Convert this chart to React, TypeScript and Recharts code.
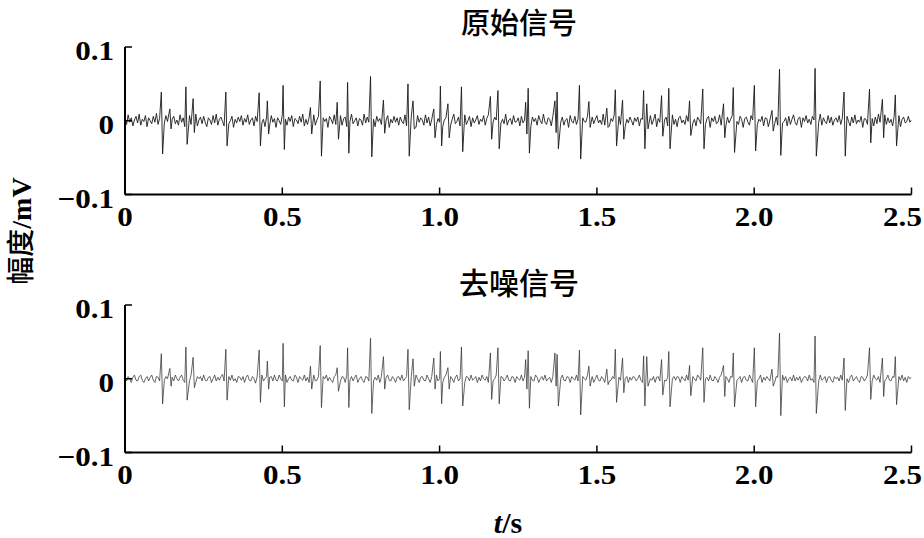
import React from 'react';
import { LineChart, Line, XAxis, YAxis } from 'recharts';

// x axis ticks (s) and labels
const xTicks = [0, 0.5, 1.0, 1.5, 2.0, 2.5];
const xTickLabels = ['0', '0.5', '1.0', '1.5', '2.0', '2.5'];
const yTicks = [-0.1, 0, 0.1];
const yTickLabels = ['\u22120.1', '0', '0.1'];

// baseline sampled every 5 ms, values in uV
const sampleStep = 0.005;

const rawNoise = [
  3, -5, 8, -2, 4, -7, 1, 6, -3, 9, -6, 2, -1, 7, -8, 4, 0, -4, 6, -2, 10, -5, 3, -7, 2,
  -3, 7, -1, 5, -9, 2, 6, -4, 1, -6, 8, -2, 4, -8, 3, 0, 7, -5, 2, -3, 9, -7, 1, 5, -4,
  6, -2, -8, 4, 1, -5, 7, -3, 9, -6, 2, 5, -1, -7, 3, 8, -4, 0, 6, -9, 2, -3, 5, -1, 7,
  -6, 3, -2, 8, -5, 1, 4, -7, 6, -1, -4, 9, -3, 2, -8, 5, 1, -6, 7, -2, 3, -9, 4, 0, -5,
  8, -3, 2, -6, 5, -1, 7, -8, 3, 1, -4, 6, -2, 9, -7, 2, -5, 4, 0, -3, 8, -6, 1, 6, -2,
  -7, 4, -1, 3, -9, 6, 2, -4, 8, -5, 1, -2, 7, -6, 3, 5, -8, 2, -1, 9, -4, 0, 4, -7, 3,
  1, -6, 9, -3, 5, -2, -7, 4, 2, -8, 6, -1, 3, -5, 8, -4, 1, 7, -9, 2, -3, 6, -2, 4, -6,
  5, -1, -4, 8, -7, 3, 0, 6, -5, 2, -9, 7, -2, 4, 1, -6, 8, -3, 5, -7, 2, -1, 9, -5, 3,
  -2, 6, -8, 1, 4, -3, 7, -6, 2, 9, -4, -1, 5, -7, 3, -2, 8, -5, 0, 6, -8, 4, -3, 1, 7,
  -5, 2, -1, 7, -6, 3, 8, -9, 4, -2, 5, 1, -7, 6, -3, 2, -4, 9, -6, 1, 3, -5, 7, -2, -1,
  4, -7, 6, -3, 1, 8, -5, 2, -8, 5, -1, 3, -6, 7, 0, -4, 9, -2, -5, 4, 2, -7, 6, -3, 1,
  -4, 8, -2, 5, -6, 1, 3, -9, 7, -1, -3, 6, -5, 2, 8, -7, 4, -1, -2, 6, -8, 3, 5, -4, 2,
  7, -3, 1, -5, 9, -6, 2, 4, -7, 3, -1, 8, -4, -2, 6, -5, 1, 7, -8, 2, -3, 5, 0, -6, 4,
  -1, 5, -7, 3, 2, -6, 8, -2, -4, 7, -5, 1, 9, -8, 3, -2, 6, -4, 1, 5, -7, 2, -3, 8, -5,
  2, -8, 4, 6, -3, 1, -5, 7, -1, -6, 9, -3, 2, -7, 5, 1, -4, 8, -2, -5, 3, 6, -9, 4, -1,
  6, -4, -2, 8, -6, 3, 1, -7, 5, -3, 2, 7, -8, 4, -1, -5, 6, 2, -9, 3, 5, -2, -6, 7, 1,
  -3, 9, -5, 2, -1, 6, -7, 4, 3, -8, 1, -2, 7, -4, 5, -6, 2, 8, -3, -1, 4, -7, 6, -5, 2,
  8, -2, -6, 3, 5, -9, 4, -1, 7, -3, 2, -5, 6, 1, -8, 3, -2, 9, -6, 4, -1, -4, 7, -3, 5,
  -6, 1, 4, -2, 7, -5, 3, -8, 2, 6, -1, -7, 5, -3, 8, -4, 1, -2, 6, -9, 3, 2, -5, 7, -1,
  3, -7, 5, -4, 9, -2, -6, 1, 8, -5, 4, -3, 2, -7, 6, 1, -4, 7, -8, 2, 5, -3, -1, 6, -2,
  1,
];

const denoisedNoise = [
  2, -3, 3, 0, -5, 2, 5, -2, -3, 3, 5, -2, -5, 0, 3, -3, 2, 5, -2, -5, 3, 2, -3, 0, 5,
  -2, 3, 0, -5, 3, 2, -3, 5, 0, -3, 2, 5, -2, -5, 3, 0, -3, 5, 2, -2, -5, 3, 0, 3, -3,
  5, -2, -3, 2, 3, -5, 0, 5, -3, 2, -2, 3, 6, -3, -5, 2, 3, -2, 5, -3, 0, -5, 3, 2, -2,
  3, -5, 2, 5, -2, -3, 3, 0, -6, 3, 2, -2, 5, -3, 0, 3, -5, 2, 3, -3, 5, -2, -3, 5, 0,
  -3, 2, 5, -5, 0, 3, -2, -3, 5, 2, -5, 3, 0, -2, 5, -3, 2, -5, 3, 0, 5, -3, -2, 3, 2,
  -5, 3, 0, 5, -3, 2, -2, -5, 3, 5, -2, 0, -3, 3, 2, -5, 5, 0, -2, 3, -3, 2, 5, -5, 0,
  3, -2, -5, 3, 2, -3, 5, 0, -3, 2, -2, 5, -5, 3, 0, -3, 2, 5, -2, -3, 3, 0, -5, 2, 3,
  -2, 5, -3, 0, 3, -5, 2, 3, -2, -3, 5, 0, -5, 2, 3, -2, -3, 5, 0, -5, 3, 2, -2, 5, -3,
  0, 3, -5, 2, 5, -2, -3, 3, 0, -5, 2, 5, -3, 0, 3, -2, -5, 3, 2, -3, 5, -2, 0, 3, -5,
  2, -3, 5, 0, -2, 3, -5, 2, 3, -3, 0, 5, -2, -5, 3, 2, -3, 0, 5, -2, -3, 3, 2, -5, 3,
  0, -2, 5, -3, 2, 3, -5, 0, 3, -2, -3, 5, 2, -5, 0, 3, -2, 5, -3, 0, 2, -5, 3, 2, -2,
  3, -5, 0, 5, -2, -3, 3, 2, -5, 3, 0, -2, 5, -3, 2, -5, 3, 0, -2, 5, -3, 2, 3, -5, 0,
  5, -2, -3, 3, 0, -5, 2, 5, -3, -2, 3, 0, -5, 3, 2, -2, 5, -3, 0, 3, -5, 2, -2, 3, 2,
  -3, 0, 5, -2, -5, 3, 2, -3, 5, 0, -2, 3, -5, 2, 3, -3, 0, 5, -2, -3, 2, 5, -5, 0, 3,
  -2, 3, 2, -5, 3, 0, -3, 5, -2, 2, -5, 3, 0, -3, 5, 2, -2, -5, 3, 0, 2, -3, 5, -2, -3,
  3, 0, -5, 2, 5, -3, -2, 3, 0, -5, 3, 2, -3, 5, -2, 0, 3, -5, 2, 3, -2, -3, 5, 0, -5,
  2, 3, -3, 0, 5, -5, 2, -2, 3, 0, -3, 5, -2, -5, 3, 2, 0, -3, 5, -2, 3, -5, 0, 2, -3,
  5, -3, 2, -2, 3, -5, 0, 3, 2, -3, 5, -2, 0, -5, 3, 2, -3, 5, -2, 0, 3, -5, 2, 3, -2,
  -5, 3, 0, 2, -3, 5, -2, -3, 3, 0, -5, 2, 5, -3, 0, 3, -2, -5, 3, 2, -3, 0, 5, -2, 2,
  -3, 5, 0, -2, 3, -5, 2, 3, -3, 0, 5, -2, -3, 3, 2, -5, 0, 3, -2, 5, -3, 2, -5, 3, 0,
  2,
];

// spike (QRS-like) times in s
const spikeTimes = [
  0.117, 0.144, 0.195, 0.218, 0.322, 0.428, 0.454, 0.504, 0.591, 0.622,
  0.676, 0.709, 0.782, 0.823, 0.901, 0.917, 0.983, 1.004, 1.028, 1.071,
  1.163, 1.187, 1.275, 1.283, 1.368, 1.375, 1.446, 1.476, 1.533, 1.56,
  1.583, 1.65, 1.66, 1.707, 1.73, 1.796, 1.838, 1.904, 1.935, 2.002,
  2.058, 2.082, 2.195, 2.287, 2.368, 2.409, 2.45,
];

// spike peaks in uV
const rawSpikeUp = [
  39, 16, 46, 30, 39, 38, 27, 48, 18, 54, 25, 52, 60, 28, 50, 27, 16, 47, 23, 46,
  33, 41, 25, 44, 27, 39, 48, 26, 17, 42, 28, 41, 23, 34, 44, 27, 43, 23, 45, 48,
  14, 70, 71, 39, 43, 29, 35,
];
const rawSpikeDown = [
  -45, -11, -32, -16, -34, -34, -18, -39, -18, -48, -25, -44, -49, -17, -48, -11, -23, -34, -23, -42,
  -25, -38, -18, -44, -16, -38, -52, -9, -9, -34, -25, -38, -11, -21, -38, -20, -38, -23, -43, -41,
  -14, -47, -48, -48, -30, -23, -34,
];
const denSpikeUp = [
  34, 14, 43, 29, 40, 39, 24, 48, 17, 45, 15, 42, 55, 30, 40, 27, 28, 37, 15, 43,
  35, 42, 26, 38, 35, 33, 39, 17, 13, 40, 28, 31, 30, 26, 37, 18, 42, 18, 35, 42,
  13, 62, 58, 28, 42, 28, 30,
];
const denSpikeDown = [
  -34, -10, -29, -12, -29, -32, -14, -38, -14, -39, -17, -39, -47, -14, -42, -10, -14, -34, -14, -37,
  -28, -34, -14, -40, -10, -37, -49, -10, -8, -32, -19, -37, -10, -22, -38, -23, -32, -24, -38, -38,
  -10, -50, -47, -43, -28, -24, -35,
];

function buildSeries(noise: number[], up: number[], down: number[]) {
  const pts: { t: number; v: number }[] = [];
  noise.forEach((n, i) => {
    const t = i * sampleStep;
    const nearSpike = spikeTimes.some((s) => t > s - 0.004 && t < s + 0.006);
    if (!nearSpike) pts.push({ t, v: n / 1000 });
  });
  spikeTimes.forEach((s, i) => {
    pts.push({ t: s - 0.0015, v: up[i] / 1000 });
    pts.push({ t: s + 0.0025, v: down[i] / 1000 });
  });
  pts.sort((a, b) => a.t - b.t);
  return pts;
}

const rawData = buildSeries(rawNoise, rawSpikeUp, rawSpikeDown);
const denoisedData = buildSeries(denoisedNoise, denSpikeUp, denSpikeDown);

const numFont = "'Liberation Serif', 'Times New Roman', serif";
const cjkFont = "'Noto Sans CJK SC', sans-serif";

const XTick = (props: any) => {
  const { x, y, payload } = props;
  const idx = xTicks.indexOf(payload.value);
  const label = xTickLabels[idx];
  // the last label sits a little left so it stays inside the picture
  const dx = idx === xTicks.length - 1 ? -9 : 0;
  return (
    <text
      transform={`translate(${x + dx},${y + 31}) scale(1.15,1)`}
      textAnchor="middle"
      style={{ fontFamily: numFont, fontWeight: 700, fontSize: 27 }}
      fill="#000"
    >
      {label}
    </text>
  );
};

const YTick = (props: any) => {
  const { x, y, payload } = props;
  const label = yTickLabels[yTicks.indexOf(payload.value)];
  return (
    <text
      transform={`translate(${x - 11},${y + 13}) scale(1.15,1)`}
      textAnchor="end"
      style={{ fontFamily: numFont, fontWeight: 700, fontSize: 27 }}
      fill="#000"
    >
      {label}
    </text>
  );
};

function Panel({ data, stroke, width }: { data: { t: number; v: number }[]; stroke: string; width: number }) {
  const axisLine = { stroke: '#000', strokeWidth: 2 };
  const tickLine = { stroke: '#000', strokeWidth: 1.5 };
  return (
    <LineChart width={924} height={240} data={data} margin={{ top: 47, right: 12.5, left: 25, bottom: 0 }}>
      <XAxis
        dataKey="t"
        type="number"
        domain={[0, 2.5]}
        ticks={xTicks}
        allowDataOverflow
        height={45.5}
        axisLine={axisLine}
        tickLine={tickLine}
        tickSize={-7}
        tickMargin={7}
        tick={<XTick />}
        interval={0}
      />
      <XAxis
        xAxisId="top"
        orientation="top"
        dataKey="t"
        type="number"
        domain={[0, 2.5]}
        ticks={xTicks}
        allowDataOverflow
        height={0}
        axisLine={axisLine}
        tickLine={tickLine}
        tickSize={-7}
        tick={false}
        interval={0}
      />
      <YAxis
        type="number"
        domain={[-0.1, 0.1]}
        ticks={yTicks}
        allowDataOverflow
        width={100}
        axisLine={axisLine}
        tickLine={tickLine}
        tickSize={-7}
        tickMargin={7}
        tick={<YTick />}
        interval={0}
      />
      <YAxis
        yAxisId="r"
        orientation="right"
        type="number"
        domain={[-0.1, 0.1]}
        ticks={yTicks}
        allowDataOverflow
        width={0}
        axisLine={axisLine}
        tickLine={tickLine}
        tickSize={-7}
        tick={false}
        interval={0}
      />
      <Line
        dataKey="v"
        type="linear"
        stroke={stroke}
        strokeWidth={width}
        dot={false}
        isAnimationActive={false}
      />
    </LineChart>
  );
}

export default function App() {
  return (
    <div style={{ position: 'absolute', left: 0, top: 0, width: 924, height: 538, background: '#fff' }}>
      <div style={{ position: 'absolute', left: 0, top: 0 }}>
        <Panel data={rawData} stroke="#1a1a1a" width={0.9} />
      </div>
      <div style={{ position: 'absolute', left: 0, top: 258 }}>
        <Panel data={denoisedData} stroke="#333" width={0.75} />
      </div>
      <svg
        width={924}
        height={538}
        style={{ position: 'absolute', left: 0, top: 0, pointerEvents: 'none' }}
      >
        <text x={519} y={34} textAnchor="middle" style={{ fontFamily: cjkFont, fontWeight: 500, fontSize: 29 }} fill="#000">
          原始信号
        </text>
        <text x={519} y={294} textAnchor="middle" style={{ fontFamily: cjkFont, fontWeight: 500, fontSize: 30 }} fill="#000">
          去噪信号
        </text>
        <text transform="translate(31,231) rotate(-90)" textAnchor="middle" style={{ fontSize: 28 }} fill="#000">
          <tspan style={{ fontFamily: cjkFont, fontWeight: 500 }}>幅度</tspan>
          <tspan style={{ fontFamily: numFont, fontWeight: 700 }}>/mV</tspan>
        </text>
        <text x={508} y={533} textAnchor="middle" style={{ fontFamily: numFont, fontWeight: 700, fontSize: 30 }} fill="#000">
          <tspan style={{ fontStyle: 'italic' }}>t</tspan>
          <tspan>/s</tspan>
        </text>
      </svg>
    </div>
  );
}
